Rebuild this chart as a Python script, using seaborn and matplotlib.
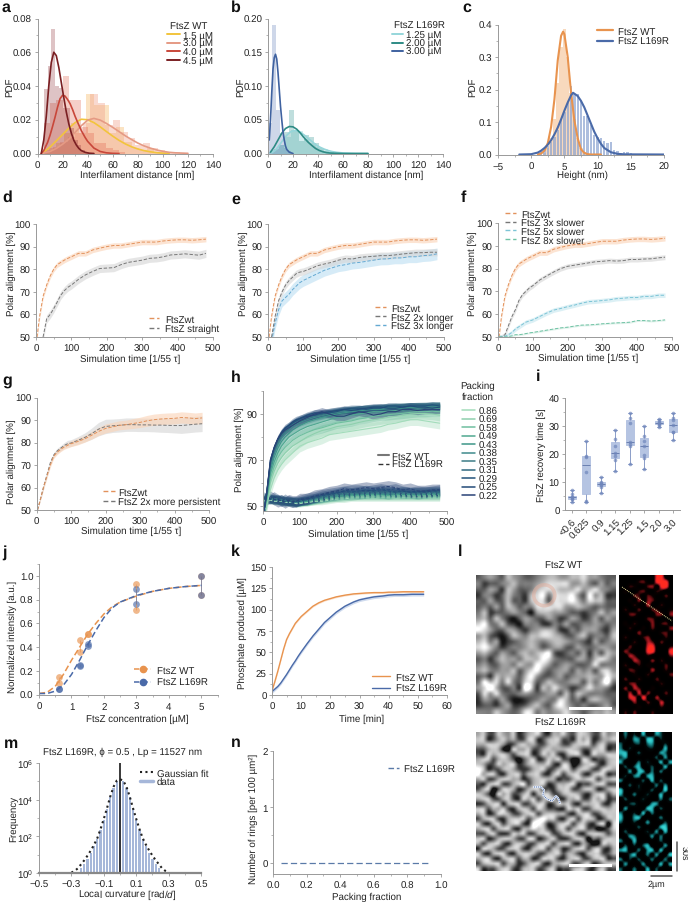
import numpy as np
import pandas as pd
import matplotlib
matplotlib.use("Agg")
import matplotlib.pyplot as plt
import seaborn as sns
from matplotlib.lines import Line2D
from matplotlib.patches import Rectangle, Circle
from matplotlib.transforms import Affine2D
from matplotlib.ticker import MultipleLocator, FixedLocator, NullFormatter
from matplotlib.colors import LinearSegmentedColormap

W, H = 688, 903

# ---------------- panel a ----------------
a_x15 = [3,5,10,15,20,25,30,35,40,45,50,55,60,65,70,75,80,85,90,95,100,105]
a_y15 = [0,.0008,.0038,.0075,.0112,.0150,.0183,.0203,.0200,.0183,.0158,.0130,.0103,.0078,.0057,.0040,.0027,.0017,.0010,.0005,.0002,0]
a_x30 = [3,10,15,20,25,30,35,40,45,50,55,60,65,70,75,80,85,90,95,100,105,110,120]
a_y30 = [0,.0012,.0030,.0055,.0085,.0125,.0165,.0198,.0208,.0198,.0178,.0155,.0130,.0105,.0083,.0062,.0045,.0032,.0021,.0013,.0007,.0004,.0001]
a_x40 = [3,5,8,10,12,14,16,18,20,22,24,26,28,30,32,35,38,40,45,50,55,60,65]
a_y40 = [0,.0018,.0065,.0108,.016,.0215,.0275,.0325,.0345,.034,.032,.0295,.026,.022,.0185,.0135,.0095,.0072,.0032,.0012,.0004,.0001,0]
a_x45 = [3,5,7,9,11,13,15,17,19,21,23,25,27,29,31,33,35,38,41,45]
a_y45 = [0,.008,.022,.040,.054,.060,.058,.051,.042,.033,.0245,.0175,.012,.0078,.005,.003,.0017,.0007,.0002,0]
a_h15 = [.001,.003,.006,.012,.018,.012,.035,.029,.029,.012,.016,.007,.003,.002,.003,.001,.001]
a_h30 = [.002,.004,.007,.010,.012,.018,.035,.030,.017,.020,.013,.009,.005,.006,.003,.002,.001,.001,.0005]
a_h40 = [.018,.030,.032,.046,.032,.032,.016,.012,.006,.006,.003,.002,.001]
a_h45 = [.038,.052,.074,.040,.039,.027,.027,.015,.008,.005,.002,.001]
a_labels = ["1.5 µM","3.0 µM","4.0 µM","4.5 µM"]

# ---------------- panel b ----------------
b_x300 = [1,2,3,4,5,6,7,8,9,10,11,12,13,14,15,17,20]
b_y300 = [.02,.05,.09,.125,.142,.147,.14,.12,.095,.07,.05,.032,.02,.011,.006,.002,0]
b_x200 = [2,5,8,11,14,17,20,23,26,29,32,35,38,41,44,47,50,60,80]
b_y200 = [.002,.01,.02,.03,.037,.04,.0395,.036,.03,.023,.017,.012,.0075,.0045,.0025,.0012,.0006,0,0]
b_x125 = [3,6,9,12,15,18,21,24,27,30,33,36,39,42,45,48,51,55,60,70,80]
b_y125 = [.001,.005,.012,.02,.027,.032,.034,.0335,.03,.026,.021,.0165,.012,.009,.0065,.0045,.003,.0017,.0008,.0001,0]
b_h300 = [.045,.19,.065,.03,.008,.003]
b_h200 = [.002,.006,.012,.032,.064,.035,.018,.027,.024,.015,.008,.004,.002]
b_h125 = [.005,.012,.024,.035,.034,.022,.016,.010,.006,.003,.001]
b_labels = ["1.25 µM","2.00 µM","3.00 µM"]

# ---------------- panel c ----------------
c_xw = [1,1.5,2,2.5,3,3.5,4,4.5,4.8,5,5.5,6,6.5,7,7.5,8,8.5,9,10.5]
c_yw = [.0005,.003,.012,.035,.085,.17,.29,.365,.378,.37,.30,.19,.105,.05,.016,.005,.001,0,0]
c_xm = [-1.8,0,1,1.5,2,2.5,3,3.5,4,4.5,5,5.5,6,6.3,7,7.5,8,8.5,9,9.5,10,10.5,11,12,13,14,20]
c_ym = [0,.001,.006,.012,.02,.03,.044,.062,.083,.108,.135,.16,.182,.19,.18,.165,.145,.12,.095,.07,.05,.033,.02,.007,.002,.0005,0]
c_hw = [.005,.02,.05,.11,.22,.33,.385,.30,.19,.11,.05,.02,.008]
c_hm = [.01,.02,.027,.037,.055,.075,.105,.13,.16,.21,.185,.185,.165,.12,.118,.09,.06,.055,.052,.042,.036,.04,.015,.012,.006,.009,.007,.005,.002,.001]

# ---------------- simulations d-h ----------------
t_sim = [3,10,20,30,40,50,60,70,80,90,100,120,140,160,180,200,220,240,260,280,300,320,340,360,380,400,420,440,460,480]
n = np.nan
wt = [50,59,68,73,77,80,82,83,84,84.8,85.5,87,87,88.5,89.3,90,90.5,90.5,91,91.5,92,92,92,92.5,92.8,93,93,92.8,93,93.3]
straight = [n,n,50,58,60,62.5,65.5,68.5,70.5,72,73,75.5,77.5,79,80.3,80.5,80.7,82,83,83.5,84,84.8,85,85.5,86.3,86.5,86.8,86.5,86.2,87]
longer2 = [n,50,59,66,70,73,75,76.5,78,78.7,79,80.2,81.5,82.3,83,84,84.7,84.5,85.2,85.5,85.7,86,86,86.3,86.7,87,87.3,87.3,87.5,87.5]
longer3 = [n,48,56,62,66,67.5,69,71,72.5,74,75,76.5,78,79.5,80.5,81.5,82,82.7,83,83.5,84,84.5,84.6,85,85,85.5,85.5,86,86.2,86.8]
slower3 = [50,50,51,55,59,62,66,68.5,70,71.5,72.5,75,76.8,78.5,80,81,81.5,82,82.5,83,83.2,83.5,83.3,83.5,84,84,84.2,84.3,84.7,85]
slower5 = [50,50,50.3,51,52,53.5,54.5,55.5,56.5,57,57.5,59,60.5,61.8,62.5,63.3,64,64.8,65.5,65.7,66,66.3,66.8,67,67.3,67.3,67.8,67.8,68.3,68.3]
slower8 = [50,50,50,50.2,50.5,51,51,51.2,51.5,51.8,52,52.5,53,53.5,54,54.3,54.8,55.2,55.3,55.5,55.8,56,56.2,56.3,56.5,57.2,57.2,57,57.2,57.5]
g_wt = [50,54,60,65,70,74,75.7,77,78,78.8,79.5,80.5,81.7,83.3,85,86.3,87,87.7,88,88.5,89,89.7,90.2,90.5,90.7,90.8,91.2,91,90.7,91]
g_pers = [50,54,60,65.5,71,74.5,76.3,77.5,78.7,79.5,79.8,81,82.3,84,86,87.2,87.5,87.7,88,88,87.9,87.9,87.8,87.8,87.7,87.6,87.6,87.9,88.2,88.4]
g_wt_b = [0,.5,1,1,1,1,1,1,1,1.2,1.3,1.5,1.5,1.7,1.8,2,2,2,2,2.2,2.3,2.4,2.5,2.5,2.5,2.5,2.5,2.5,2.5,2.5]
g_pers_b = [0,.5,1,1,1,1,1.2,1.2,1.3,1.5,1.5,1.7,2,2.5,3,3.2,3,3,3,3,3,3,3,3.2,3.2,3.3,3.5,3.5,3.5,3.5]

pack = ["0.86","0.69","0.58","0.49","0.43","0.38","0.35","0.31","0.29","0.25","0.22"]
h_wt = [
 [48,50,57,62,65.5,68,70,71.5,73,74.5,76,77.5,78.5,79.5,81,81.5,82,82.5,83,83.5,84,84.5,85.5,86,86.8,87.5,87.5,87,86.5,86],
 [48,51,60,65,68.5,71,73,74.5,76,77,78,80,81.5,82.8,83.5,84.5,85,85.5,86.3,87,87.5,88,88.5,89,89.3,90,90.2,90.2,90,89.5],
 [48,52,62,67,71,73.5,75.5,77,78.5,79.5,80.5,82,83.2,84,85,86,86.5,87,87.8,88.3,89,89.5,89.7,90,90.3,90.7,91,91,91.2,91],
 [48,53,64,69,73,76,78,80,81,82,83,84.5,85.5,86.5,87.5,88.5,89,89.5,90,90.5,91,91,91.2,91.5,91.7,92,92.2,92,92.3,92.5],
 [48,54,65.5,71,75,78,80,81.5,83,84,85,86.5,87.5,88.5,89.3,90,90.5,91,91.3,91.7,92,92,92.3,92.5,92.5,92.8,93,93,93,93.2],
 [48,55,67,72.5,76.5,79.5,81.5,83,84.5,85.5,86.3,87.5,88.5,89.3,90,90.7,91,91.5,92,92.2,92.3,92.5,92.5,93,93,93.2,93.3,93.3,93.5,93.5],
 [48,56,68,73.5,77.5,80.5,82.5,84,85.5,86.5,87,88.2,89,89.5,90.5,91,91.5,91.8,92,92.5,92.5,92.8,93,93,93.3,93.5,93.5,93.5,93.7,93.8],
 [48,56,69,74.5,78.5,81,83,84.5,86,87,87.5,88.7,89.5,90,91,91.5,91.7,92,92.3,92.5,92.8,93,93.2,93.3,93.5,93.5,93.7,93.8,93.8,94],
 [48,55,69,75,79,81.5,83.5,85,86,87,88,89.5,90.5,90.5,90.5,91,92,92.5,92.5,92,92.5,92.5,93.5,93.5,93,93.5,93.5,93.5,94,93.5],
 [48,56,70,75.5,79,82,84,85,86.5,87.5,88,89,89.5,90.5,91,91.5,92,91.5,92,92.5,93,93,92.5,92.5,93,93.5,93,93,92.5,93],
 [48,55,70,75,79,81.5,83,84,85,86,87,88.5,90,91,90,89,89,90,91,90.5,89.5,90,91,91,92,92,91.5,92,92,92],
]
h_mut = [
 [52,52.5,52.5,52,52,52,51.5,51.5,51.5,51,51,51.5,52,52,52.5,53,53,53.5,53.5,53.5,53.5,53.5,53.5,53.5,53.5,53.5,53.5,53.5,53.5,53.5],
 [52.5,52.5,53,52.5,52,52,52,51.5,51.5,51.5,51.5,51.5,52,52.5,53,53.5,53.5,54,54,54,54,54,54,54,54,54,54,54,54,54],
 [52.5,53,53,52.5,52.5,52,52,52,51.5,51.5,51.5,52,52.5,53,53.5,53.5,54,54,54.5,54.5,54.5,54.5,54.5,54.5,54.5,54.5,54.5,54.5,54.5,54.5],
 [53,53.5,53,53,52.5,52.5,52,52,52,51.5,51.5,52,52.5,53,53.5,54,54.5,54.5,54.5,55,55,55,54.5,55,55,55,54.5,55,55,55],
 [53,53,53.5,53,52.5,52.5,52,52,52,52,52,52,53,53.5,54,54.5,54.5,55,55,55,55.5,55,55,55.5,55,55,55,55,55.5,55.5],
 [53,53,53,53,53,52.5,52.5,52,52,51.5,52,52.5,53,53.5,54,54.5,55,55.5,55,55.5,55.5,55.5,55.5,55.5,55.5,55.5,55,55.5,55.5,55.5],
 [53,53.5,53,53,53,52.5,52.5,52,52,52,52,52.5,53,54,54.5,55,55.5,55.5,55.5,56,55.5,56,56,55.5,56,55.5,55.5,55.5,56,56],
 [54,53,53,53,52.5,53,52,52,52,52,52,52.5,53.5,54,54.5,55.5,55.5,56,56,56,56.5,56,56.5,56,56,56,56,56,56,56],
 [53,54,53,52.5,53,52,52,52.5,52,51.5,52,53,53.5,54.5,55,55.5,56.5,56,56.5,57,56.5,57,56.5,56,56.5,56,56,56.5,56.5,56.5],
 [54,53,53,54,53,52,53,52,51.5,52,52.5,53.5,54,55,55.5,56,56.5,57,57,56.5,57,57.5,57,57.5,56.5,56,56.5,56,56.5,57],
 [53,53,54,53,52,52.5,51.5,52.5,52,52,53,53,54.5,55,56,56.5,57.5,57,57.5,58,57.5,58,58.5,58,57,57.5,56.5,56.5,57,57],
]
h_colors = ['#a3dcbb','#8ed0ad','#6fbf9f','#4fa890','#3d9688','#3f8a8c','#3c7c86','#2f6880','#22527a','#234a78','#2a4376']
h_wt_band = [2.5,2.5,2.3,2,1.8,1.6,1.5,1.4,1.4,1.5,1.8]
h_mut_band = [1.5,1.5,1.6,1.6,1.7,1.7,1.8,1.9,2,2.2,2.5]

# ---------------- panel i ----------------
i_cats = ["<0.6","0.625","0.9","1.15","1.25","1.5","2.0","3.0"]
i_vals = [
 [2.7,3.8,3.9,4.5,4.6,5.6,7.2],
 [2.7,3.2,13.5,19,19.3,24.7],
 [6,8.3,8.9,9.3,9.6,10.1,11.7],
 [13.8,18,19.2,20.5,22.8,25.5,28.5],
 [16.5,23,23.4,24.3,31,33,34.5],
 [14.8,18.5,19.5,22.8,24.8,26.5,30],
 [29.8,30.3,30.8,31.2,31.5,32,32.5],
 [25,28,28,30.3,32,33,34.5],
]

# ---------------- panel j ----------------
j_conc = [.625,.625,1.25,1.25,1.5,1.5,3,3,5,5]
j_wt = [.10,.15,.36,.46,.51,.51,.71,.93,.84,1.0]
j_mut = [.05,.05,.24,.25,.41,.43,.76,.89,.84,1.0]
j_fx = [0,.25,.5,.75,1,1.25,1.5,1.75,2,2.25,2.5,3,3.5,4,4.5,5]
j_fwt = [.01,.02,.07,.17,.29,.40,.51,.60,.68,.74,.78,.83,.87,.895,.91,.92]
j_fmut = [.01,.01,.03,.08,.17,.29,.42,.54,.65,.73,.78,.835,.87,.895,.91,.92]

# ---------------- panel k ----------------
k_t = [0,1,2,3,4,5,6,7,8,9,10,12,14,16,18,20,22,25,28,30,32,35,38,40,42,45,48,50,52]
k_wt = [5,16,28,41,54,65,72,78,84,88,92,98,104,108,111,113,115,117,118.5,119,119.5,120,120,120.5,120.5,121,121,121,121]
k_mut = [4,7,10,14,19,24,29.5,35,40,45.5,50.5,60,69,77,85,91,97,104,109,111.5,113,115,116,117,117.5,117.5,118,118,118]

# ---------------- panel m ----------------
m_x = [-.30,-.28,-.26,-.24,-.22,-.20,-.18,-.16,-.14,-.12,-.10,-.08,-.06,-.04,-.02,0,.02,.04,.06,.08,.10,.12,.14,.16,.18,.20,.22,.24,.26,.28,.30]
m_fit = [1.05,1.3,1.8,3,5,9,17,35,80,250,900,3500,15000,50000,110000,130000,110000,50000,15000,3500,900,250,80,35,17,9,5,3,1.8,1.3,1.05]
m_data = [1,1,1.2,1.8,3,6,12,28,70,220,800,3200,14000,46000,100000,120000,100000,46000,14000,3200,800,220,70,28,12,6,3,1.8,1.2,1,1]

# ---------------- panel n ----------------
n_x = [.05,.92]
n_y = [0,0]

# ---------------- panel l : brightness read on a coarse grid (0 dark ... 9 bright) ----------------
l_wt_gray = [
"345436543345665566755433","423345644456777755643534","335426533467776667567543","244236432678477785385622",
"335336332677377786476633","343536534477777556543433","462334543156655433234645","563642135433542354235354",
"784463214442243533445434","875335532456652243555325","563213654667765335634436","674512345654566544325345",
"786423445653455335434554","564354356567832343525365","342465546668743335536764","453355465587534543347444",
"564455635785345535453675","342656536853345345565586","486747437734654455364694","579633429726575423575542",
"375743345434553636544433","254353112345447634256543","233245223564368643433453","444654347745456754345565"]
l_mut_gray = [
"6733765723677326674377633756","7723675633772367733276723667","6677752367663367633677736733","3367610766733676667763367723",
"3276775367723767326773276677","6773676303672376733017623367","7633767723676673276026773267","9723367632367733677367633776",
"9677326773677326736773267723","6733677662367766233676773667","3267733678367723667723367733","3670377623677332677336762367",
"7630767336726773367763267736","6773367327673677326673376723","2367726773367723767326677326","7736673267637633227673367767",
"6723776336773677663267733677","3677326777368977326737762367","7326736773299723677367326707","6773677326687732673677330137",
"3367323767336773367732677636","7723677633772367323676043677","6367732676336773677326301767","2776336773267736623677367326",
"7326773267763367736632677336","6773267736623777326773367723","3677736623677326677336723677","7233677326773367233677326733"]
l_red = ["000000009900","000034009990","003200450990","020034003200","000430420040","002050540000","000300600300","030040043002",
"004400005405","000000440000","020300050340","003002040005","000050000340","030003500030","000300640400","004000890003",
"052000990009","006400200004","000640050300","030030200040","004300060030","000200300004","040030004000","004500000300",
"050640020000","006070500040","007709006000","000500400700","000020000300","030400030000"]
l_cyan = ["050307006400","030650770300","400340560030","503000230070","770040000650","460000004060","600050300706","040470040070",
"006076050500","030560670000","500004070400","004030005060","700020040080","600500300700","040003000504","003400066000",
"060000770400","500307050000","700670000500","400300600040","000040000780","040000306070","006500060500","500700000400",
"040304700060","670050670700","004700506007","503040050050","060006000706","400500704000"]

ORANGE, BLUE = '#e8934e', '#4a6aa8'
DASH = (0, (3.5, 1.8))
FS = 7.0
EM = FS*100/72

sns.set_theme(style="ticks", rc={
    "axes.edgecolor": "#999999", "axes.linewidth": 0.7, "axes.spines.top": False, "axes.spines.right": False,
    "xtick.major.size": 2.4, "ytick.major.size": 2.4, "xtick.minor.size": 1.4, "ytick.minor.size": 1.4,
    "xtick.major.width": .6, "ytick.major.width": .6, "xtick.minor.width": .5, "ytick.minor.width": .5,
    "xtick.color": "#999999", "ytick.color": "#999999", "xtick.labelcolor": "#222222", "ytick.labelcolor": "#222222",
    "xtick.major.pad": 2.5, "ytick.major.pad": 1.5, "font.size": FS, "xtick.labelsize": FS, "ytick.labelsize": FS,
    "axes.labelsize": FS, "axes.labelcolor": "#222222", "text.color": "#222222",
    "mathtext.fontset": "custom", "mathtext.rm": "Liberation Sans", "mathtext.it": "Liberation Sans:italic",
    "mathtext.default": "regular", "legend.fontsize": FS, "text.hinting": "no_hinting",
})
plt.rcParams['font.family'] = ['Liberation Sans', 'DejaVu Sans']

fig = plt.figure(figsize=(W/100, H/100), dpi=100)
PX = Affine2D().scale(1/W, -1/H).translate(0, 1) + fig.transFigure


def add(x0, x1, ytop, ybot):
    return fig.add_axes([x0/W, 1-ybot/H, (x1-x0)/W, (ybot-ytop)/H])


def finish(ax, xlabel, ylabel, xpos, ypos, xminor=None, yminor=None):
    ax.set_xlabel(xlabel)
    ax.set_ylabel(ylabel)
    ax.xaxis.set_label_coords(xpos[0], xpos[1], transform=PX)
    ax.yaxis.set_label_coords(ypos[0], ypos[1], transform=PX)
    ax.xaxis.label.set_va('center'); ax.xaxis.label.set_ha('center')
    ax.yaxis.label.set_va('center'); ax.yaxis.label.set_ha('center')
    if xminor: ax.xaxis.set_minor_locator(MultipleLocator(xminor))
    if yminor: ax.yaxis.set_minor_locator(MultipleLocator(yminor))


def line(ax, x, y, color, lw=1.3, ls='-', **kw):
    sns.lineplot(x=np.asarray(x, float), y=np.asarray(y, float), color=color, linewidth=lw, linestyle=ls,
                 errorbar=None, legend=False, ax=ax, **kw)


def hist(ax, start, width, values, color, alpha, shrink=1.0):
    edges = start + width*np.arange(len(values)+1)
    centers = (edges[:-1]+edges[1:])/2
    sns.histplot(x=centers, weights=values, bins=edges.tolist(), color=color, alpha=alpha, linewidth=0,
                 shrink=shrink, legend=False, ax=ax)


def leg(ax, handles, labels, x, first, pitch, hlen, tpad):
    """Legend placed by the pixel position of its first row, with a given row pitch in pixels."""
    return ax.legend(handles=handles, labels=labels, loc='upper left', bbox_to_anchor=(x, first-4.6), bbox_transform=PX,
                     frameon=False, borderpad=0, borderaxespad=0, labelspacing=(pitch-0.93*EM)/EM, handlelength=hlen/EM,
                     handletextpad=tpad/EM, fontsize=FS)


def h2d(color, ls='-', lw=1.4, **kw):
    return Line2D([0], [0], color=color, ls=ls, lw=lw, **kw)


def band_line(ax, y, band, color, fill):
    y = np.asarray(y, float)
    ax.fill_between(t_sim, y-np.asarray(band), y+np.asarray(band), color=fill, alpha=.6, lw=0)
    line(ax, t_sim, y, color, lw=.7, ls=DASH)


# a
axa = add(37.5, 213, 19.5, 154.5)
hist(axa, 3, 6, a_h15, '#f8c27a', .45)
hist(axa, 6, 6, a_h30, '#f0a08a', .4)
hist(axa, 5, 5, a_h40, '#e0604a', .3)
hist(axa, 5, 3, a_h45, '#8a2a30', .28)
a_col = ['#f2c43c', '#e59a84', '#c8473a', '#7a1f22']
line(axa, a_x15, a_y15, a_col[0], 1.2)
line(axa, a_x30, a_y30, a_col[1], 1.2)
line(axa, a_x40, a_y40, a_col[2], 1.2)
line(axa, a_x45, a_y45, a_col[3], 1.2)
axa.set(xlim=(0, 140), ylim=(0, .08), xticks=range(0, 141, 20), yticks=[0, .02, .04, .06, .08])
axa.set_yticklabels(["0.00", "0.02", "0.04", "0.06", "0.08"])
finish(axa, "Interfilament distance [nm]", "PDF", (137, 175), (10, 87), 10, .01)
leg(axa, [h2d(c) for c in a_col], a_labels, 167, 36, 8.3, 13, 3)
fig.text(189/W, 1-26/H, "FtsZ WT", ha='center', va='center')

# b
axb = add(268, 443, 19.5, 154.5)
hist(axb, 3, 5, b_h125, '#9fd8dc', .45)
hist(axb, 1, 4, b_h200, '#4aa39e', .35)
hist(axb, .5, 3, b_h300, '#5d7cb8', .3)
b_col = ['#96d6da', '#2e8b85', '#3f62a0']
line(axb, b_x125, b_y125, b_col[0], 1.2)
line(axb, b_x200, b_y200, b_col[1], 1.2)
line(axb, b_x300, b_y300, b_col[2], 1.2)
axb.set(xlim=(0, 140), ylim=(0, .2), xticks=range(0, 141, 20), yticks=[0, .05, .10, .15, .20])
axb.set_yticklabels(["0.00", "0.05", "0.10", "0.15", "0.20"])
finish(axb, "Interfilament distance [nm]", "PDF", (366, 175), (241, 87), 10, .025)
leg(axb, [h2d(c) for c in b_col], b_labels, 392, 36, 8, 11, 3)
fig.text(419/W, 1-26/H, "FtsZ L169R", ha='center', va='center')

# c
axc = add(498, 664, 25.5, 155.5)
hist(axc, 1.75, .5, c_hw, '#f6c9a2', .7)
hist(axc, 1.25, .5, c_hm, '#8ba3d0', .7, shrink=.7)
line(axc, c_xw, c_yw, ORANGE, 1.5)
line(axc, c_xm, c_ym, BLUE, 1.5)
axc.set(xlim=(-5, 20), ylim=(0, .4), xticks=[-5, 0, 5, 10, 15, 20], yticks=[0, .1, .2, .3, .4])
axc.set_xticklabels(["\u22125", "0", "5", "10", "15", "20"])
axc.set_yticklabels(["0.0", "0.1", "0.2", "0.3", "0.4"])
finish(axc, "Height (nm)", "PDF", (582, 175), (473, 87), 2.5, .05)
leg(axc, [h2d(ORANGE, lw=1.6), h2d(BLUE, lw=1.6)], ["FtsZ WT", "FtsZ L169R"], 597, 32, 10, 16, 5)

# d - g
sim_col = {'wt': ('#e2925c', '#fbd3b6'), 'gray': ('#777777', '#d5d5d5'), 'blue': ('#64a9d2', '#bcdff2'),
           'lblue': ('#7cc4d6', '#c5e7ef'), 'green': ('#6fc2a4', '#cdeadf')}


def sim_axes(ax, xlabel_pos, ylabel_pos):
    ax.set(xlim=(0, 500), ylim=(50, 100), xticks=range(0, 501, 100), yticks=range(50, 101, 10))
    finish(ax, "Simulation time [1/55 \u03c4]", "Polar alignment [%]", xlabel_pos, ylabel_pos, 50)


LEGD = (0, (3.5, 2))
axd = add(36, 213, 225, 338)
band_line(axd, wt, 1.2, *sim_col['wt'])
band_line(axd, straight, 1.8, *sim_col['gray'])
sim_axes(axd, (130, 359), (11, 274))
leg(axd, [h2d(sim_col['wt'][0], LEGD, 1), h2d(sim_col['gray'][0], LEGD, 1)], ["FtsZwt", "FtsZ straight"], 149, 320, 9, 10, 6)

axe = add(268, 444, 225, 338)
band_line(axe, longer3, 2.6, *sim_col['blue'])
band_line(axe, longer2, 1.6, *sim_col['gray'])
band_line(axe, wt, 1.2, *sim_col['wt'])
sim_axes(axe, (360, 359), (243, 274))
leg(axe, [h2d(sim_col[k][0], LEGD, 1) for k in ('wt', 'gray', 'blue')], ["FtsZwt", "FtsZ 2x longer", "FtsZ 3x longer"], 375, 309, 8.5, 11, 5)

axf = add(498, 672, 224, 338)
band_line(axf, wt, 1.2, *sim_col['wt'])
band_line(axf, slower3, 1.1, *sim_col['gray'])
band_line(axf, slower5, 1.0, *sim_col['lblue'])
band_line(axf, slower8, .4, *sim_col['green'])
sim_axes(axf, (588.5, 358), (472, 274))
leg(axf, [h2d(sim_col[k][0], LEGD, 1) for k in ('wt', 'gray', 'lblue', 'green')],
    ["FtsZwt", "FtsZ 3x slower", "FtsZ 5x slower", "FtsZ 8x slower"], 505, 215, 8.3, 11, 5)

axg = add(36.5, 209, 398.7, 511)
band_line(axg, g_pers, g_pers_b, *sim_col['gray'])
band_line(axg, g_wt, g_wt_b, *sim_col['wt'])
sim_axes(axg, (131, 531), (11, 462))
leg(axg, [h2d(sim_col['wt'][0], LEGD, 1), h2d(sim_col['gray'][0], LEGD, 1)], ["FtsZwt", "FtsZ 2x more persistent"], 103, 493, 9, 12, 3)

# h
axh = add(263, 447, 392, 512)
for i in range(len(pack)):
    y = np.asarray(h_mut[i], float)
    axh.fill_between(t_sim, y-h_mut_band[i], y+h_mut_band[i], color=h_colors[i], alpha=.38, lw=0)
    line(axh, t_sim, y, h_colors[i], .7, DASH)
for i in range(len(pack)):
    y = np.asarray(h_wt[i], float)
    axh.fill_between(t_sim, y-h_wt_band[i], y+h_wt_band[i], color=h_colors[i], alpha=.38, lw=0)
    line(axh, t_sim, y, h_colors[i], .8)
axh.set(xlim=(0, 500), ylim=(47.8, 100), xticks=range(0, 501, 100), yticks=[50, 70, 90])
finish(axh, "Simulation time [1/55 \u03c4]", "Polar alignment [%]", (358, 534), (239, 450), 50, 10)
L1 = leg(axh, [h2d(c, lw=1.1) for c in h_colors], pack, 462, 412, 8.2, 13, 4)
axh.add_artist(L1)
leg(axh, [h2d('#777777', lw=1.5), h2d('#333333', LEGD, 1)], ["FtsZ WT", "FtsZ L169R"], 378, 457, 8.3, 11, 3)
fig.text(478/W, 1-386/H, "Packing", ha='center', va='center')
fig.text(478/W, 1-397/H, "fraction", ha='center', va='center')

# i
axi = add(565, 680, 399, 511)
i_df = pd.DataFrame({"cat": [c for c, v in zip(i_cats, i_vals) for _ in v], "val": [x for v in i_vals for x in v]})
sns.boxplot(data=i_df, x="cat", y="val", order=i_cats, color='#b5c4e2', width=.55, whis=(0, 100), fliersize=0,
            linewidth=.7, linecolor='#8b9dc8', saturation=1, boxprops={'edgecolor': '#b5c4e2'},
            medianprops={'color': '#6a7fb0'}, ax=axi)
sns.stripplot(data=i_df, x="cat", y="val", order=i_cats, color='#6f86bb', size=2.6, alpha=.7, jitter=False, ax=axi)
axi.set(xlim=(-.46, 7.47), ylim=(0, 40), yticks=[0, 10, 20, 30, 40])
axi.set_xticks(range(len(i_cats)))
axi.set_xticklabels(i_cats, rotation=45, ha='right', rotation_mode='anchor')
finish(axi, "", "FtsZ recovery time [s]", (620, 540), (541, 455), None, 5)

# j
axj = add(39, 217.7, 565, 695.7)
for xs, ys, col in ((j_conc, j_wt, ORANGE), (j_conc, j_mut, BLUE)):
    axj.vlines(xs[::2], ys[::2], ys[1::2], color=col, lw=.7, alpha=.6)
line(axj, j_fx, j_fwt, ORANGE, 1.1, (0, (4, 2)))
line(axj, j_fx, j_fmut, BLUE, 1.1, (0, (4, 2)))
sns.scatterplot(x=j_conc, y=j_wt, color=ORANGE, s=24, alpha=.65, linewidth=0, legend=False, ax=axj, clip_on=False)
sns.scatterplot(x=j_conc, y=j_mut, color=BLUE, s=24, alpha=.65, linewidth=0, legend=False, ax=axj, clip_on=False)
axj.set(xlim=(0, 5.5), ylim=(0, 1.1), xticks=range(6), yticks=[0, .2, .4, .6, .8, 1.0])
axj.set_yticklabels(["0.0", "0.2", "0.4", "0.6", "0.8", "1.0"])
finish(axj, "FtsZ concentration [\u00b5M]", "Normalized intensity [a.u.]", (137, 719), (12, 637), .5, .1)
leg(axj, [h2d(ORANGE, LEGD, 1.1, marker='o', ms=4.5), h2d(BLUE, LEGD, 1.1, marker='o', ms=4.5)],
    ["FtsZ WT", "FtsZ L169R"], 134, 671, 12, 17, 6)

# k
axk = add(272, 447, 568, 696)
axk.fill_between(k_t, np.array(k_mut)-2, np.array(k_mut)+2, color='#c4d2ea', lw=0, alpha=.8)
axk.fill_between(k_t, np.array(k_wt)-1, np.array(k_wt)+1, color='#fad9bf', lw=0, alpha=.8)
line(axk, k_t, k_wt, ORANGE, 1.0)
line(axk, k_t, k_mut, BLUE, 1.0)
axk.set(xlim=(0, 60), ylim=(0, 150), xticks=range(0, 61, 10), yticks=range(0, 151, 25))
finish(axk, "Time [min]", "Phosphate produced [\u00b5M]", (362, 719), (242, 633), 5, 12.5)
leg(axk, [h2d(ORANGE, lw=1), h2d(BLUE, lw=1)], ["FtsZ WT", "FtsZ L169R"], 372, 678, 11, 18, 6)

# l
def grid(rows):
    return np.array([[int(c) for c in r] for r in rows], float)/9


def image(x0, x1, y0, y1, rows, cmap, vmin=0, vmax=1):
    ax = add(x0, x1, y0, y1)
    ax.imshow(grid(rows), cmap=cmap, vmin=vmin, vmax=vmax, aspect='auto', interpolation='spline16')
    ax.axis('off')
    return ax


red = LinearSegmentedColormap.from_list('r', ['#000000', '#0a0000', '#6a0e12', '#c8202a', '#ff2a20'])
cyan = LinearSegmentedColormap.from_list('c', ['#000000', '#000808', '#0d5a5c', '#25b0b4', '#3fe0dc'])
gray = LinearSegmentedColormap.from_list('g', ['#151515', '#6a6a6a', '#b0b0b0', '#ffffff'])
ax_wt = image(476, 616, 576, 715, l_wt_gray, gray, .1, .9)
image(619, 673, 576, 715, l_red, red)
image(476, 616, 733, 872, l_mut_gray, gray, .12, .98)
image(619, 672, 733, 872, l_cyan, cyan)
ax_wt.add_patch(Circle((11.2, 3), 1.8, fc='none', ec='#e0b0a0', lw=2.6, alpha=.55))
fig.text(564/W, 1-565/H, "FtsZ WT", ha='center', va='center')
fig.text(560/W, 1-723/H, "FtsZ L169R", ha='center', va='center')
for yy in (708, 865):
    fig.add_artist(Rectangle((569, yy), 43, 3.2, transform=PX, fc='white', ec='none'))
fig.add_artist(Line2D([622, 672], [588, 622], transform=PX, color='#f2e6a0', lw=.7, ls=(0, (1, 1))))
worm_x = [534, 541, 544, 543, 547, 552, 556, 558, 560]
worm_y = [788, 788, 791, 796, 800, 802, 797, 799, 804]
fig.add_artist(Line2D(worm_x, worm_y, transform=PX, color='#e8eef8', lw=1.5))
fig.add_artist(Line2D(worm_x, worm_y, transform=PX, color='#4a6aa8', lw=.7, ls=(0, (1, 1))))
fig.add_artist(Line2D([677, 677], [843, 872], transform=PX, color='#555555', lw=1.1))
fig.add_artist(Line2D([651, 672], [877, 877], transform=PX, color='#555555', lw=1.1))
fig.text(684/W, 1-853/H, "30s", rotation=-90, ha='center', va='center', fontsize=6.5)
fig.text(656/W, 1-885/H, "2\u00b5m", ha='center', va='center', fontsize=6.5)

# m
axm = add(39, 201, 764, 874)
axm.set_yscale('log')
hist(axm, -.31, .02, m_data, '#a6b7d9', 1, shrink=.7)
axm.axvline(0, color='#2a2a2a', lw=1.3)
line(axm, m_x, m_fit, '#222222', 1.5, (0, (1, 1.6)))
axm.set(xlim=(-.5, .5), ylim=(1, 1e6))
axm.set_xticks([-.5, -.3, -.1, .1, .3, .5])
axm.set_xticklabels(["\u22120.5", "\u22120.3", "\u22120.1", "0.1", "0.3", "0.5"])
axm.set_yticks([1, 1e2, 1e4, 1e6])
axm.set_yticklabels(["$10^{0}$", "$10^{2}$", "$10^{4}$", "$10^{6}$"])
axm.yaxis.set_minor_locator(FixedLocator([10, 1e3, 1e5]))
axm.yaxis.set_minor_formatter(NullFormatter())
axm.spines['bottom'].set_linewidth(1.6)
axm.spines['bottom'].set_color('#888888')
finish(axm, "Local curvature [rad/$\\it{d}$]", "Frequency", (127, 895), (14, 819), .1)
leg(axm, [h2d('#222222', (0, (1, 1.6)), 1.5), h2d('#a6b7d9', lw=2.5)], ["Gaussian fit", "data"], 140, 774, 8, 13, 4)
fig.text(123/W, 1-752/H, "FtsZ L169R, \u03d5 = 0.5 , Lp = 11527 nm", ha='center', va='center')

# n
axn = add(273, 441, 751.7, 875)
line(axn, n_x, n_y, '#5a7aa8', .9, (0, (5, 2.5)))
axn.set(xlim=(0, 1), ylim=(-.19, 2), xticks=[0, .2, .4, .6, .8, 1.0], yticks=[0, 1, 2])
axn.set_xticklabels(["0.0", "0.2", "0.4", "0.6", "0.8", "1.0"])
finish(axn, "Packing fraction", "Number of rings [per 100 \u00b5m\u00b2]", (367, 897), (253, 819), .1, .5)
leg(axn, [h2d('#5a7aa8', (0, (4, 2)), 1)], ["FtsZ L169R"], 388, 770, 8, 11, 5)

# panel letters
for s, x, y in [("a", 2, 8), ("b", 231, 8), ("c", 462, 8), ("d", 2, 198), ("e", 231, 200), ("f", 461, 198), ("g", 2, 382),
                ("h", 231, 378), ("i", 536, 377), ("j", 2, 553), ("k", 231, 552), ("l", 458, 552), ("m", 4, 744), ("n", 231, 743)]:
    fig.text(x/W, 1-y/H, s, fontsize=11.5, fontweight='bold', color='#111111', ha='left', va='center')

fig.savefig("out.png", dpi=100)
